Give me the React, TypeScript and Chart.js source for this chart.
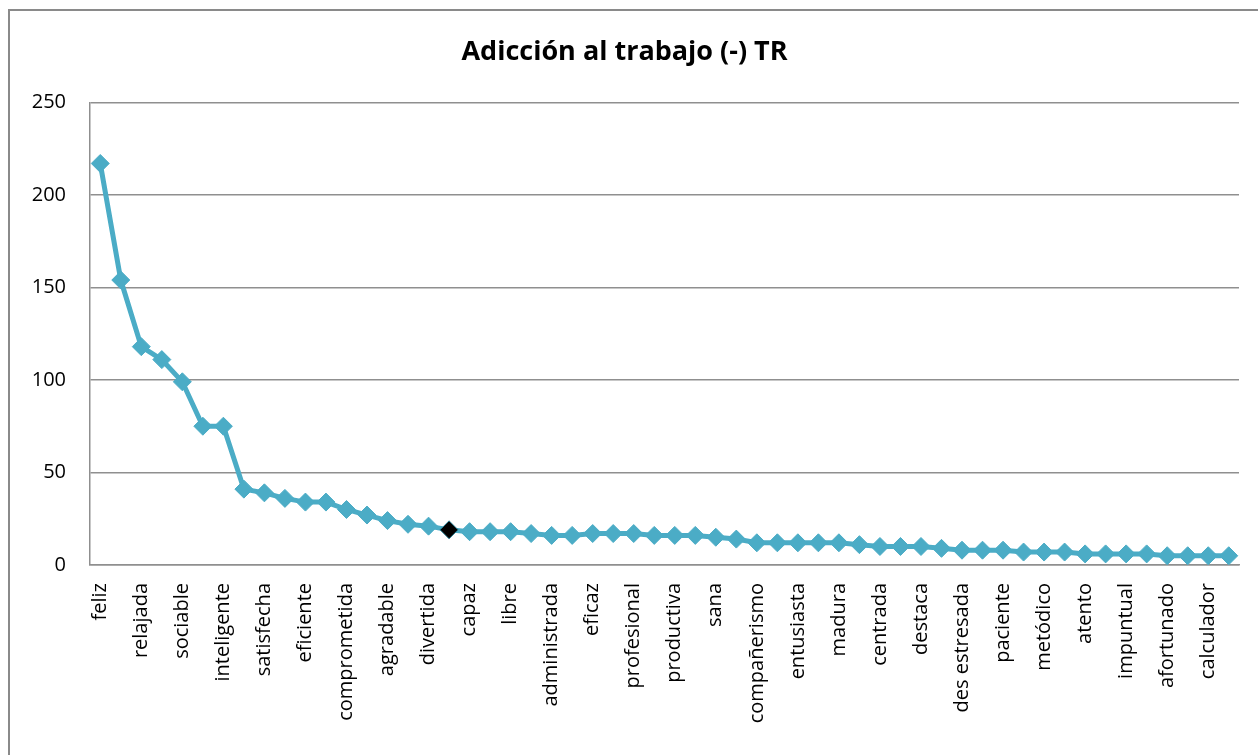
import React, { useEffect, useRef } from "react";
import { Chart, registerables } from "chart.js";

Chart.register(...registerables);

const TITLE = "Adicción al trabajo (-) TR";

const categories: string[] = [
  "feliz", "tranquila", "relajada", "alegre", "sociable", "trabajadora", "inteligente", "responsable",
  "satisfecha", "organizada", "eficiente", "motivada", "comprometida", "realizada", "agradable", "segura",
  "divertida", "equilibrada", "capaz", "independiente", "libre", "activa", "administrada", "puntual",
  "eficaz", "competente", "profesional", "dedicada", "productiva", "optimista", "sana", "estable",
  "compañerismo", "valorada", "entusiasta", "creativa", "madura", "comunicativa", "centrada", "positiva",
  "destaca", "líder", "des estresada", "flexible", "paciente", "constante", "metódico", "ordenado",
  "atento", "amable", "impuntual", "cumplidor", "afortunado", "exitoso", "calculador", "práctico",
];

const values: number[] = [
  217, 154, 118, 111, 99, 75, 75, 41, 39, 36,
  34, 34, 30, 27, 24, 22, 21, 19, 18, 18,
  18, 17, 16, 16, 17, 17, 17, 16, 16, 16,
  15, 14, 12, 12, 12, 12, 12, 11, 10, 10,
  10, 9, 8, 8, 8, 7, 7, 7, 6, 6,
  6, 6, 5, 5, 5, 5,
];

const yTicks: number[] = [0, 50, 100, 150, 200, 250];
const highlightIndex = 17;

const LINE_COLOR = "#4BACC6";
const GRID_COLOR = "#8f8f8f";
const FONT = "'Open Sans', sans-serif";

export default function App() {
  const ref = useRef<HTMLCanvasElement | null>(null);

  useEffect(() => {
    if (!ref.current) return;
    const chart = new Chart(ref.current, {
      type: "line",
      data: {
        labels: categories,
        datasets: [
          {
            data: values,
            borderColor: LINE_COLOR,
            borderWidth: 5,
            pointStyle: "rectRot",
            pointRadius: 9,
            pointHoverRadius: 9,
            pointBorderWidth: 1,
            pointBackgroundColor: values.map((_, i) => (i === highlightIndex ? "#000000" : LINE_COLOR)),
            pointBorderColor: values.map((_, i) => (i === highlightIndex ? "#2a7f94" : LINE_COLOR)),
            tension: 0,
          },
        ],
      },
      options: {
        responsive: false,
        animation: false,
        layout: { padding: { left: 0, right: 19, top: 0, bottom: 0 } },
        plugins: {
          legend: { display: false },
          tooltip: { enabled: false },
          title: {
            display: true,
            text: TITLE,
            color: "#000",
            font: { family: FONT, size: 27, weight: "bold" },
            padding: { top: 25, bottom: 34 },
          },
        },
        scales: {
          x: {
            offset: true,
            grid: { display: false, drawTicks: false },
            border: { display: true, color: GRID_COLOR, width: 1.5 },
            afterFit: (scale: any) => {
              scale.height = 190;
              scale.paddingLeft = 0;
              scale.paddingRight = 0;
            },
            ticks: {
              autoSkip: false,
              maxRotation: 90,
              minRotation: 90,
              padding: 18,
              color: "#000",
              font: { family: FONT, size: 20 },
              callback: (_v: any, i: number) => (i % 2 === 0 ? categories[i] : ""),
            },
          },
          y: {
            min: 0,
            max: 250,
            afterFit: (scale: any) => {
              scale.width = 80;
              scale.paddingTop = 0;
              scale.paddingBottom = 0;
            },
            afterBuildTicks: (scale: any) => {
              scale.ticks = yTicks.map((v) => ({ value: v }));
            },
            grid: { color: GRID_COLOR, lineWidth: 1.5, drawTicks: false },
            border: { display: true, color: GRID_COLOR, width: 1.5 },
            ticks: {
              padding: 24,
              color: "#000",
              font: { family: FONT, size: 20 },
            },
          },
        },
      },
    });
    return () => chart.destroy();
  }, []);

  return (
    <div
      style={{
        position: "fixed",
        left: 8,
        top: 9,
        width: 1250,
        height: 746,
        boxSizing: "border-box",
        borderLeft: "2px solid #8a8a8a",
        borderTop: "2px solid #8a8a8a",
        background: "#fff",
      }}
    >
      <canvas ref={ref} width={1248} height={744} style={{ display: "block" }} />
    </div>
  );
}
